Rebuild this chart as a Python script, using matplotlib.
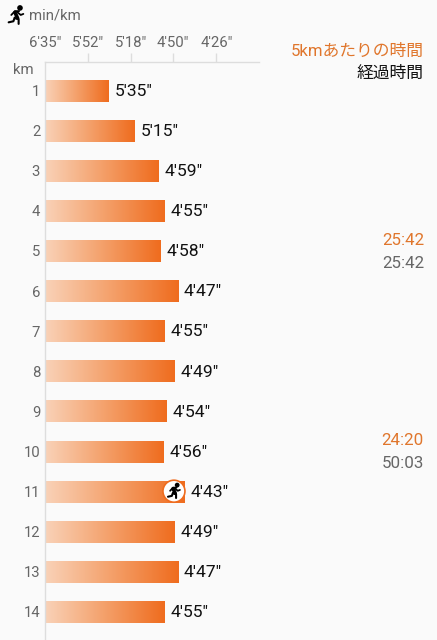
import numpy as np
import matplotlib
matplotlib.use("Agg")
import matplotlib.pyplot as plt
from matplotlib.colors import LinearSegmentedColormap
from matplotlib.lines import Line2D
from matplotlib.patches import Circle
from matplotlib.transforms import Affine2D

plt.rcParams['font.family'] = ['Roboto', 'Noto Sans CJK JP', 'DejaVu Sans']

laps = list(range(1, 15))
pace_labels = ["5'35\"", "5'15\"", "4'59\"", "4'55\"", "4'58\"", "4'47\"", "4'55\"",
               "4'49\"", "4'54\"", "4'56\"", "4'43\"", "4'49\"", "4'47\"", "4'55\""]
pace_seconds = [335, 315, 299, 295, 298, 287, 295, 289, 294, 296, 283, 289, 287, 295]
tick_seconds = [395, 352, 318, 290, 266]
tick_labels = ["6'35\"", "5'52\"", "5'18\"", "4'50\"", "4'26\""]
split_laps = [5, 10]
split_times = ["25:42", "24:20"]
elapsed_times = ["25:42", "50:03"]
current_lap = 11

W, H = 437, 640
BG = '#fafafa'
ORANGE = '#e0762c'
fig = plt.figure(figsize=(W / 100, H / 100), dpi=100, facecolor=BG)
L, R, T, B = 45, 259, 62, 640
SC = 38.8
ax = fig.add_axes([L / W, 1 - B / H, (R - L) / W, (B - T) / H], facecolor=BG)

speed = lambda s: 3600.0 / np.asarray(s, float)
xmin = float(speed(395))
row = 40.07
xlim = (xmin, xmin + (R - L) / SC)
ylim = (14 + (B - 612) / row, 1 - (90.5 - T) / row)

cmap = LinearSegmentedColormap.from_list('g', ['#f9d2b8', '#f4a06a', '#ef6c1e'])
grad = np.linspace(0, 1, 256).reshape(1, -1)
for lap, sec in zip(laps, pace_seconds):
    v = float(speed(sec))
    bar = ax.barh(lap, v - xmin, left=xmin, height=22 / row, color='none', linewidth=0)[0]
    im = ax.imshow(grad, extent=[xmin, v, lap + 11 / row, lap - 11 / row], cmap=cmap,
                   aspect='auto', interpolation='bilinear', zorder=2)
    im.set_clip_path(bar)
ax.set_xlim(*xlim)
ax.set_ylim(*ylim)

for lap, sec, lab in zip(laps, pace_seconds, pace_labels):
    ax.annotate(lab, (float(speed(sec)), lap), xytext=(4.3, -0.5), textcoords='offset points',
                ha='left', va='center', fontsize=12.6, color='#111111', zorder=4)

ax.xaxis.tick_top()
ax.set_xticks(speed(tick_seconds))
ax.set_xticklabels(tick_labels, fontsize=10.7, color='#666666')
ax.tick_params(axis='x', length=6.5, width=1, color='#dddddd', pad=2)
ax.xaxis.get_major_ticks()[0].tick2line.set_visible(False)
ax.set_yticks(laps)
ax.set_yticklabels([str(i) for i in laps], fontsize=10.7, color='#666666')
ax.tick_params(axis='y', length=0, pad=3.5)
for s in ['right', 'bottom']:
    ax.spines[s].set_visible(False)
for s in ['top', 'left']:
    ax.spines[s].set_color('#dddddd')
    ax.spines[s].set_linewidth(1)

px = lambda x, y: (x / W, 1 - y / H)
fig.text(*px(34, 70), 'km', ha='right', va='center', fontsize=10.7, color='#666666')
fig.text(*px(29, 16), 'min/km', ha='left', va='center', fontsize=10.7, color='#666666')
fig.text(*px(424, 51), '5kmあたりの時間', ha='right', va='center', fontsize=12.1, color=ORANGE)
fig.text(*px(424, 73), '経過時間', ha='right', va='center', fontsize=12.1, color='#111111')
for lap, a, b in zip(split_laps, split_times, elapsed_times):
    y = 90 + (lap - 1) * row
    fig.text(*px(424, y - 10), a, ha='right', va='center', fontsize=12.2, color=ORANGE)
    fig.text(*px(424, y + 13), b, ha='right', va='center', fontsize=12.2, color='#666666')


def runner(cx, cy, s, z=6):
    tr = Affine2D().scale(s).translate(cx, H - cy)
    segs = [([-0.1, 0.15], [0.3, -0.25], 2.6),
            ([0.3, -0.1, -0.45], [0.42, 0.42, 0.05], 1.3),
            ([0.15, 0.45, 0.7], [0.3, 0.05, 0.15], 1.3),
            ([-0.12, 0.25, 0.25], [-0.25, -0.35, -0.8], 1.5),
            ([-0.12, -0.25, -0.7], [-0.2, -0.55, -0.65], 1.5)]
    for xs, ys, lw in segs:
        fig.add_artist(Line2D(xs, ys, lw=lw, color='black', transform=tr, solid_capstyle='round', zorder=z))
    fig.add_artist(Circle((0.38, 0.72), 0.2, color='black', transform=tr, zorder=z))


runner(16, 15.5, 10.5)
xc = L + (float(speed(pace_seconds[current_lap - 1])) - xmin) * SC - 11
yc = 90.5 + (current_lap - 1) * row
fig.add_artist(Circle((xc, H - yc), 11, facecolor='white', edgecolor='#ef6c1e', lw=1.2,
                      transform=Affine2D(), zorder=5))
runner(xc, yc, 8.5)
fig.savefig('out.png', dpi=100, facecolor=BG)
